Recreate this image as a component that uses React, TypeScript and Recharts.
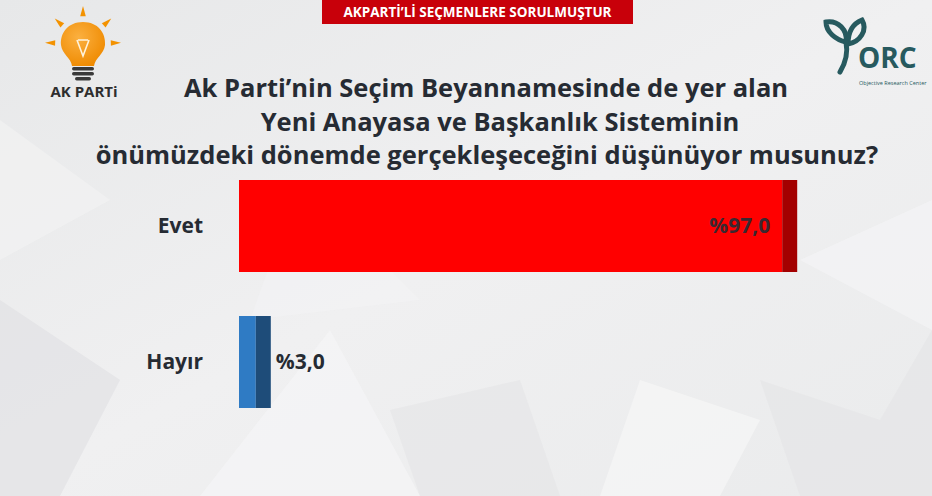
import React from "react";
import { BarChart, Bar, XAxis, YAxis, LabelList } from "recharts";

// survey answers and their shares (%)
const answers = ["Evet", "Hayır"];
const shares = [97.0, 3.0];

const titleLines = [
	"Ak Parti’nin Seçim Beyannamesinde de yer alan",
	"Yeni Anayasa ve Başkanlık Sisteminin",
	"önümüzdeki dönemde gerçekleşeceğini düşünüyor musunuz?",
];
const banner = "AKPARTİ’Lİ SEÇMENLERE SORULMUŞTUR";

const data = answers.map((name, i) => ({ name, value: shares[i] }));

const FRONT = ["#ff0000", "#2f7bc4"];
const SIDE = ["#a30000", "#1e4c79"];
const DEPTH = 15;
const FONT = "'Open Sans', 'Noto Sans', sans-serif";
const TEXT = "#262b33";
const TEAL = "#275a5f";

const fmt = (v: number) => "%" + v.toFixed(1).replace(".", ",");

function BlockBar(props: any) {
	const { x, y, width, height, index } = props;
	return (
		<g>
			<rect x={x} y={y} width={width} height={height} fill={FRONT[index]} />
			<rect x={x + width} y={y} width={DEPTH} height={height} fill={SIDE[index]} />
		</g>
	);
}

function ValueLabel(props: any) {
	const { x, y, width, height, value } = props;
	const inside = value > 50;
	return (
		<text
			x={inside ? x + width - 12 : x + width + DEPTH + 5}
			y={y + height / 2}
			dy="0.35em"
			textAnchor={inside ? "end" : "start"}
			fontFamily={FONT}
			fontWeight={700}
			fontSize={21}
			fill={inside ? "#3a2830" : TEXT}
		>
			{fmt(value)}
		</text>
	);
}

function Backdrop() {
	const rays = [-90, -138, -42, 182, -2];
	return (
		<svg width={932} height={496} style={{ position: "absolute", left: 0, top: 0 }}>
			<defs>
				<linearGradient id="bg" x1="0" y1="0" x2="1" y2="1">
					<stop offset="0" stopColor="#e7e8e9" />
					<stop offset="0.5" stopColor="#f0f0f1" />
					<stop offset="1" stopColor="#eaebec" />
				</linearGradient>
				<radialGradient id="bulb" cx="0.4" cy="0.35" r="0.7">
					<stop offset="0" stopColor="#fbb040" />
					<stop offset="1" stopColor="#ef8a00" />
				</radialGradient>
			</defs>
			<rect width={932} height={496} fill="url(#bg)" />
			<polygon points="0,300 120,380 60,496 0,496" fill="#dfe0e2" opacity={0.6} />
			<polygon points="200,496 330,330 420,496" fill="#f5f5f6" opacity={0.7} />
			<polygon points="390,410 520,380 560,496 420,496" fill="#e4e5e6" opacity={0.6} />
			<polygon points="640,380 760,420 720,496 600,496" fill="#f6f6f7" opacity={0.7} />
			<polygon points="760,380 880,420 932,330 932,496 800,496" fill="#e4e5e6" opacity={0.6} />
			<polygon points="300,180 420,300 250,320" fill="#f4f4f5" opacity={0.5} />
			<polygon points="800,260 932,200 932,330" fill="#f5f5f6" opacity={0.6} />
			<polygon points="0,120 110,200 0,260" fill="#f3f3f4" opacity={0.6} />

			{/* banner */}
			<rect x={322} y={0} width={311} height={24} fill="#c8000a" />
			<text x={477.5} y={17} textAnchor="middle" fontFamily={FONT} fontWeight={700} fontSize={13.5} fill="#ffffff">
				{banner}
			</text>

			{/* AK Parti logo */}
			<g>
				{rays.map((a, i) => {
					const cx = 83;
					const cy = 44;
					const rad = (a * Math.PI) / 180;
					const w = 0.1;
					const r1 = 28;
					const r2 = 38;
					const pts = [
						[cx + r1 * Math.cos(rad - w), cy + r1 * Math.sin(rad - w)],
						[cx + r2 * Math.cos(rad), cy + r2 * Math.sin(rad)],
						[cx + r1 * Math.cos(rad + w), cy + r1 * Math.sin(rad + w)],
					];
					return <polygon key={i} points={pts.map((p) => p.join(",")).join(" ")} fill="#f39200" />;
				})}
				<path d="M83,22 C98,22 106,33 105,45 C104,54 95,58 94,66 L72,66 C71,58 62,54 61,45 C60,33 68,22 83,22 Z" fill="url(#bulb)" />
				<path d="M77,40 L83,56 L89,40 M78,40 L88,40" stroke="#fff3dc" strokeWidth={1.6} fill="none" />
				<rect x={72} y={67} width={22} height={3.5} rx={1.7} fill="#3a3a3a" />
				<rect x={72} y={72} width={22} height={3.5} rx={1.7} fill="#3a3a3a" />
				<rect x={75} y={77} width={16} height={3.5} rx={1.7} fill="#3a3a3a" />
				<text x={84} y={97} textAnchor="middle" fontFamily={FONT} fontWeight={700} fontSize={15} fill="#2e2e2e">
					AK PARTi
				</text>
			</g>

			{/* ORC logo */}
			<g fill="none" stroke={TEAL} strokeLinecap="round">
				<path d="M826,22 C838,20 848,30 846,42 C836,40 826,32 826,22 Z" strokeWidth={5} />
				<path d="M862,20 C868,30 860,42 848,44 C848,32 852,24 862,20 Z" strokeWidth={5} />
				<path d="M846,42 C848,52 846,62 840,72" strokeWidth={5} />
			</g>
			<text x={858} y={68} fontFamily={FONT} fontWeight={700} fontSize={28} fill={TEAL}>
				ORC
			</text>
			<text x={859} y={85} fontFamily={FONT} fontSize={5.5} fill={TEAL}>
				Objective Research Center
			</text>

			{/* question */}
			{titleLines.map((t, i) => (
				<text
					key={i}
					x={[486, 500, 487][i]}
					y={97 + i * 33.5}
					textAnchor="middle"
					fontFamily={FONT}
					fontWeight={700}
					fontSize={25.5}
					fill={TEXT}
				>
					{t}
				</text>
			))}
		</svg>
	);
}

export default function App() {
	return (
		<div style={{ position: "absolute", left: 0, top: 0, width: 932, height: 496, overflow: "hidden" }}>
			<Backdrop />
			<div style={{ position: "absolute", left: 0, top: 0 }}>
				<BarChart
					width={932}
					height={496}
					data={data}
					layout="vertical"
					margin={{ top: 158, right: 133, bottom: 66, left: 0 }}
				>
					<XAxis type="number" domain={[0, 100]} hide />
					<YAxis
						type="category"
						dataKey="name"
						width={239}
						axisLine={false}
						tickLine={false}
						tickMargin={30}
						tick={{ fontFamily: FONT, fontWeight: 700, fontSize: 21, fill: TEXT }}
					/>
					<Bar dataKey="value" barSize={92} shape={<BlockBar />} isAnimationActive={false}>
						<LabelList dataKey="value" content={<ValueLabel />} />
					</Bar>
				</BarChart>
			</div>
		</div>
	);
}
